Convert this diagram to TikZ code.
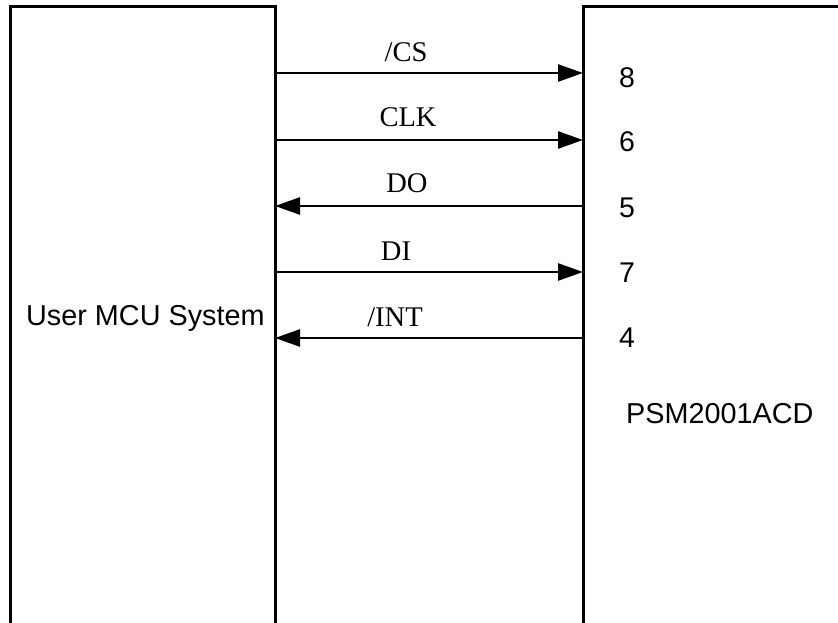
\documentclass[tikz,border=0pt]{standalone}
\usepackage{fontspec}
\setmainfont{Liberation Serif}
\newfontfamily\arialfont{Liberation Sans}
\usetikzlibrary{arrows.meta}
\begin{document}
\begin{tikzpicture}[x=1pt,y=-1pt,
  boxline/.style={line width=3pt},
  sig/.style={line width=2.8pt,-{Triangle[length=25pt,width=17pt]}},
  siglabel/.style={font=\fontsize{28.5}{32}\selectfont,anchor=base,inner sep=0pt},
  pinlabel/.style={font=\arialfont\fontsize{28.5}{32}\selectfont,anchor=base west,inner sep=0pt},
  boxlabel/.style={font=\arialfont\fontsize{28.8}{32}\selectfont,anchor=base west,inner sep=0pt}]
\useasboundingbox (0,0) rectangle (838,623);
% boxes (open at bottom / right)
\draw[boxline] (10,640) -- (10,7) -- (275,7) -- (275,640);
\draw[boxline] (583,640) -- (583,7) -- (850,7);
% connector end points
\coordinate (l1) at (275,73);  \coordinate (r1) at (583,73);
\coordinate (l2) at (275,140); \coordinate (r2) at (583,140);
\coordinate (l3) at (275,206); \coordinate (r3) at (583,206);
\coordinate (l4) at (275,272); \coordinate (r4) at (583,272);
\coordinate (l5) at (275,338); \coordinate (r5) at (583,338);
\draw[sig] (l1) -- (r1);
\draw[sig] (l2) -- (r2);
\draw[sig] (r3) -- (l3);
\draw[sig] (l4) -- (r4);
\draw[sig] (r5) -- (l5);
% signal labels
\node[siglabel] (tcs)  at (406,62)  {/CS};
\node[siglabel] (tclk) at (408,127) {CLK};
\node[siglabel] (tdo)  at (407,193) {DO};
\node[siglabel] (tdi)  at (396,260) {DI};
\node[siglabel] (tint) at (395,326) {/INT};
% pin numbers
\node[pinlabel] (p8) at (619,88)  {8};
\node[pinlabel] (p6) at (619,152) {6};
\node[pinlabel] (p5) at (619,217) {5};
\node[pinlabel] (p7) at (619,282) {7};
\node[pinlabel] (p4) at (619,347) {4};
% box labels
\node[boxlabel] (mcu) at (26,325) {User MCU System};
\node[boxlabel] (psm) at (626,423) {PSM2001ACD};
\end{tikzpicture}
\end{document}
